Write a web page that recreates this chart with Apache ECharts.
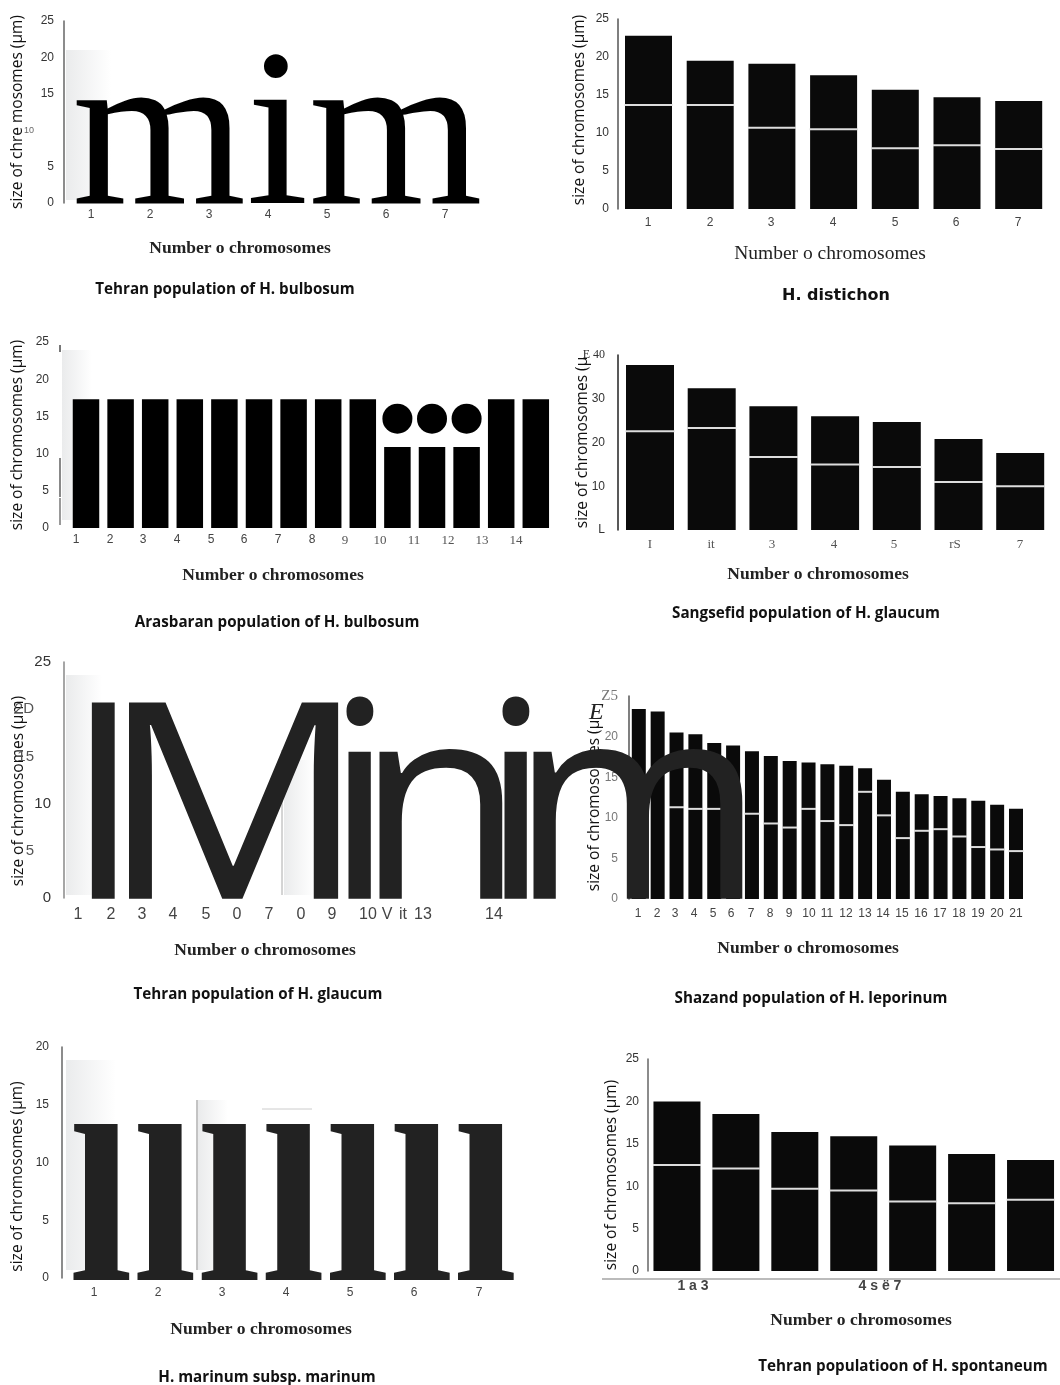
<!DOCTYPE html>
<html>
<head>
<meta charset="utf-8">
<style>html,body{margin:0;padding:0;background:#fff}#chart{width:1060px;height:1385px}</style>
<script src="https://cdn.jsdelivr.net/npm/echarts@6/dist/echarts.min.js"></script>
</head>
<body>
<div id="chart"></div>
<script>
// tick labels
var ticksSeven = ['1', '2', '3', '4', '5', '6', '7']
var ticksArasbaran = ['1', '2', '3', '4', '5', '6', '7', '8', '9', '10', '11', '12', '13', '14']
var ticksSangsefid = ['I', 'it', '3', '4', '5', 'rS', '7']
var ticksTehranGlaucum = ['1', '2', '3', '4', '5', '0', '7', '0', '9', '10', 'V', 'it', '13', '14']
var ticksShazand = ['1', '2', '3', '4', '5', '6', '7', '8', '9', '10', '11', '12', '13', '14', '15', '16', '17', '18', '19', '20', '21']
var ticksSpontaneum = ['1 a 3', '4 s ë 7']

// y labels, bottom to top
var yBulbosum = ['0', '5', '{s|10}', '15', '20', '25']
var yPlain = ['0', '5', '10', '15', '20', '25']
var ySangsefid = ['L', '10', '20', '30', '{e|E 40}']
var yGlaucum = ['0', '{p|5}', '10', '{p|15}', '{p|2D}', '25']
var yShazand = ['0', '5', '10', '15', '20', '{z|Z5}']
var yMarinum = ['0', '5', '10', '15', '20']

// whole chromosome length and long arm length
var distichonTotal = [22.8, 19.5, 19.1, 17.6, 15.7, 14.7, 14.2]
var distichonArm = [13.7, 13.7, 10.7, 10.5, 8.0, 8.4, 7.9]
var arasbaranTotal = [17.3, 17.3, 17.3, 17.3, 17.3, 17.3, 17.3, 17.3, 17.3, 10.9, 10.9, 10.9, 17.3, 17.3]
var arasbaranDots = [null, null, null, null, null, null, null, null, null, 14.7, 14.7, 14.7, null, null]
var sangsefidTotal = [37.7, 32.4, 28.3, 26.0, 24.7, 20.8, 17.6]
var sangsefidArm = [22.6, 23.3, 16.7, 15.0, 14.4, 11.0, 10.0]
var shazandTotal = [23.4, 23.1, 20.5, 20.3, 19.2, 18.9, 18.2, 17.6, 17.0, 16.8, 16.6, 16.4, 16.1, 14.7, 13.2, 12.9, 12.7, 12.4, 12.1, 11.6, 11.1]
var shazandArm = [null, null, 11.3, 11.1, 11.1, null, 10.5, 9.3, 8.8, 11.1, 9.6, 9.1, 13.2, 10.3, 7.5, 8.4, 8.6, 7.7, 6.4, 6.1, 5.9]
var spontaneumTotal = [20.0, 18.5, 16.4, 15.9, 14.8, 13.8, 13.1]
var spontaneumArm = [12.5, 12.1, 9.7, 9.5, 8.2, 8.0, 8.4]

var xName = 'Number o chromosomes'

var panels = [
    {
        yName: 'size of chre mosomes (µm)', nameGap: 38, yLabels: yBulbosum, max: 25, axisX: 64, y0: 203, yTop: 21, yMargin: 10,
        ticks: ticksSeven, tickX: [91, 150, 209, 268, 327, 386, 445], tickY: 216,
        xTitle: [240, 248], caption: 'Tehran population of H. bulbosum', capPos: [225, 289], axisColor: '#666'
    },
    {
        yName: 'size of chromosomes (µm)', nameGap: 30, namePad: [0, 0, 0, 8], yLabels: yPlain, max: 25, axisX: 618, y0: 209, yTop: 19, yMargin: 9,
        total: distichonTotal, arm: distichonArm, c1: 648.5, pitch: 61.7, barWidth: 47,
        ticks: ticksSeven, tickX: [648, 710, 771, 833, 895, 956, 1018], tickY: 224,
        xTitle: [830, 253], xPlain: true, caption: 'H. distichon', capPos: [836, 295],
        capWide: true, axisColor: '#555'
    },
    {
        yName: 'size of chromosomes (µm)', nameGap: 34, yLabels: yPlain, max: 25, axisX: 60, y0: 528, yTop: 342, yMargin: 11,
        total: arasbaranTotal, dots: arasbaranDots, c1: 86, pitch: 34.6, barWidth: 26.5, noAxisLine: true, barColor: '#000',
        ticks: ticksArasbaran, tickX: [76, 110, 143, 177, 211, 244, 278, 312, 345, 380, 414, 448, 482, 516], tickY: 541, serifFrom: 8,
        xTitle: [273, 575], caption: 'Arasbaran population of H. bulbosum', capPos: [277, 622]
    },
    {
        yName: 'size of chromosomes (µ', nameGap: 27, yLabels: ySangsefid, max: 40, axisX: 618, y0: 530, yTop: 355,
        total: sangsefidTotal, arm: sangsefidArm, c1: 650, pitch: 61.7, barWidth: 48,
        ticks: ticksSangsefid, tickX: [650, 711, 772, 834, 894, 955, 1020], tickY: 545, serifFrom: 0,
        xTitle: [818, 574], caption: 'Sangsefid population of H. glaucum', capPos: [806, 613], axisColor: '#222'
    },
    {
        yName: 'size of chromosomes (µm)', nameGap: 37, namePad: [0, 22, 0, 0], yLabels: yGlaucum, max: 25, axisX: 64, y0: 898, yTop: 662,
        ticks: ticksTehranGlaucum, tickX: [78, 111, 142, 173, 206, 237, 269, 301, 332, 368, 387, 403, 423, 494], tickY: 914, tickFont: 16,
        xTitle: [265, 950], caption: 'Tehran population of H. glaucum', capPos: [258, 994], axisColor: '#888', yFont: 15
    },
    {
        yName: 'size of chromosomes (µ', nameGap: 26, namePad: [0, 16, 0, 0], yLabels: yShazand, max: 25, axisX: 629, y0: 899, yTop: 696, yMargin: 11,
        total: shazandTotal, arm: shazandArm, c1: 638.8, pitch: 18.86, barWidth: 14,
        ticks: ticksShazand, tickX: [638, 657, 675, 694, 713, 731, 751, 770, 789, 809, 827, 846, 865, 883, 902, 921, 940, 959, 978, 997, 1016], tickY: 915,
        xTitle: [808, 948], caption: 'Shazand population of H. leporinum', capPos: [811, 998], axisColor: '#555', yColor: '#777'
    },
    {
        yName: 'size of chromosomes (µm)', nameGap: 36, namePad: [0, 28, 0, 0], yLabels: yMarinum, max: 20, axisX: 62, y0: 1278, yTop: 1047,
        ticks: ticksSeven, tickX: [94, 158, 222, 286, 350, 414, 479], tickY: 1294,
        xTitle: [261, 1329], caption: 'H. marinum subsp. marinum', capPos: [267, 1377], axisColor: '#666'
    },
    {
        yName: 'size of chromosomes (µm)', nameGap: 28, namePad: [0, 20, 0, 0], yLabels: yPlain, max: 25, axisX: 648, y0: 1271, yTop: 1059, yMargin: 9,
        total: spontaneumTotal, arm: spontaneumArm, c1: 678, pitch: 61, barWidth: 47,
        ticks: ticksSpontaneum, tickX: [693, 880], tickY: 1286, tickBold: true, tickFont: 14,
        xTitle: [861, 1320], caption: 'Tehran populatioon of H. spontaneum', capPos: [903, 1366], axisColor: '#666'
    }
]

// big overprinted letters and stray scan marks
var sansBig = '275px "Open Sans"'
var overprint = [
    { text: 'mim', x: 72, y: 256, font: '224px "Liberation Serif"', fill: '#000', scaleX: 1 },
    { text: 'I', x: 65, y: 958, font: sansBig, fill: '#222', scaleX: 1 },
    { text: 'M', x: 100, y: 958, font: sansBig, fill: '#222', scaleX: 1.08 },
    { text: 'i', x: 325, y: 958, font: sansBig, fill: '#222', scaleX: 1 },
    { text: 'n', x: 356, y: 958, font: sansBig, fill: '#222', scaleX: 1 },
    { text: 'i', x: 481, y: 958, font: sansBig, fill: '#222', scaleX: 1 },
    { text: 'm', x: 510, y: 958, font: sansBig, fill: '#222', scaleX: 1 },
    { text: 'lllllll', x: 69, y: 1334, font: 'bold 224px "Liberation Serif"', fill: '#222', scaleX: 1.03 }
]
var strayLines = [
    [60, 345, 60, 352, '#777', 2], [60, 458, 60, 497, '#888', 2], [60, 498, 60, 525, '#999', 2],
    [282, 750, 282, 895, '#aaa', 1], [197, 1100, 197, 1270, '#888', 1], [262, 1109, 312, 1109, '#ccc', 1],
    [602, 1279, 1060, 1279, '#bbb', 2]
]
var shades = [
    [66, 50, 45, 150], [62, 350, 30, 170], [66, 675, 36, 220], [66, 1060, 50, 210], [284, 760, 30, 135], [198, 1100, 30, 170]
]

var grid = [], xAxis = [], yAxis = [], series = [], title = [], graphic = []
var richY = {
    s: { fontSize: 9, color: '#666', padding: [0, 20, 0, 0] },
    p: { fontSize: 15, color: '#555', padding: [0, 17, 0, 0] },
    e: { fontFamily: 'Liberation Serif', fontSize: 12, color: '#333' },
    z: { fontFamily: 'Liberation Serif', fontSize: 15, color: '#777' }
}

panels.forEach(function (p) {
    var n = p.total ? p.total.length : 7
    var pitch = p.pitch || 59
    var left = p.total ? p.c1 - pitch / 2 : p.axisX
    var idx = grid.length
    var step = p.max == 40 ? 10 : 5

    grid.push({ left: left, top: p.yTop, width: pitch * n, height: p.y0 - p.yTop })
    xAxis.push({
        type: 'category', gridIndex: idx, data: p.total ? p.total.map(function (v, i) { return i + 1 }) : ticksSeven,
        axisLine: { show: false }, axisTick: { show: false }, axisLabel: { show: false }
    })
    yAxis.push({
        type: 'value', gridIndex: idx, min: 0, max: p.max, interval: step,
        offset: left - p.axisX, splitLine: { show: false }, axisTick: { show: false },
        axisLine: { show: !p.noAxisLine, lineStyle: { color: p.axisColor || '#666', width: 1.5 } },
        axisLabel: {
            margin: p.yMargin || 13, fontFamily: 'Liberation Sans', fontSize: p.yFont || 12, color: p.yColor || '#333', rich: richY,
            formatter: function (v) { return p.yLabels[v / step] }
        },
        name: p.yName, nameLocation: 'middle', nameGap: p.nameGap, nameMoveOverlap: false,
        nameTextStyle: { fontFamily: 'Open Sans', fontSize: 15.5, color: '#111', padding: p.namePad || 0 }
    })

    // tick labels sit on their own pixel axis, they do not line up with the bars
    var lab = grid.length
    grid.push({ left: 0, top: p.tickY - 8, width: 1060, height: 1 })
    xAxis.push({
        type: 'value', gridIndex: lab, min: 0, max: 1060, splitLine: { show: false }, axisLine: { show: false }, axisTick: { show: false },
        axisLabel: {
            customValues: p.tickX, margin: 0, hideOverlap: false,
            rich: {
                a: { fontFamily: 'Liberation Sans', fontSize: p.tickFont || 12, color: '#444', fontWeight: p.tickBold ? 'bold' : 'normal' },
                b: { fontFamily: 'Liberation Serif', fontSize: 13, color: '#555' }
            },
            formatter: function (v) {
                var i = p.tickX.indexOf(v)
                var key = p.serifFrom !== undefined && i >= p.serifFrom ? 'b' : 'a'
                return '{' + key + '|' + p.ticks[i] + '}'
            }
        }
    })
    yAxis.push({ type: 'value', gridIndex: lab, show: false })

    if (p.total) {
        series.push({
            type: 'bar', xAxisIndex: idx, yAxisIndex: idx, data: p.total, barWidth: p.barWidth,
            itemStyle: { color: p.barColor || '#0a0a0a' }, animation: false, silent: true
        })
    }
    if (p.arm) {
        series.push({
            type: 'scatter', xAxisIndex: idx, yAxisIndex: idx, symbol: 'rect', symbolSize: [p.barWidth + 1, 2], z: 5,
            data: p.arm.map(function (v, i) { return [i, v] }),
            itemStyle: { color: '#ddd', opacity: 1 }, animation: false, silent: true
        })
    }
    if (p.dots) {
        series.push({
            type: 'scatter', xAxisIndex: idx, yAxisIndex: idx, symbol: 'circle', symbolSize: 30, z: 5,
            data: p.dots.map(function (v, i) { return [i, v] }),
            itemStyle: { color: '#000', opacity: 1 }, animation: false, silent: true
        })
    }

    title.push({
        text: xName, left: p.xTitle[0], top: p.xTitle[1] - 9, textAlign: 'center', padding: 0,
        textStyle: { fontFamily: 'Liberation Serif', fontWeight: p.xPlain ? 'normal' : 'bold', fontSize: p.xPlain ? 19.5 : 17.5, color: '#222' }
    })
    title.push({
        text: p.caption, left: p.capPos[0], top: p.capPos[1] - 7, textAlign: 'center', padding: 0,
        textStyle: { fontFamily: p.capWide ? 'DejaVu Sans' : 'Open Sans', fontWeight: 'bold', fontSize: p.capWide ? 16 : 15.2, color: '#111' }
    })
})

shades.forEach(function (s) {
    graphic.push({
        type: 'rect', z: 0, shape: { x: s[0], y: s[1], width: s[2], height: s[3] },
        style: { fill: new echarts.graphic.LinearGradient(0, 0, 1, 0, [{ offset: 0, color: '#eaebec' }, { offset: 1, color: '#ffffff' }]) }
    })
})
strayLines.forEach(function (l) {
    graphic.push({ type: 'line', z: 1, shape: { x1: l[0], y1: l[1], x2: l[2], y2: l[3] }, style: { stroke: l[4], lineWidth: l[5] } })
})
overprint.forEach(function (t) {
    graphic.push({
        type: 'text', z: 50, x: t.x, y: t.y, scaleX: t.scaleX,
        style: { text: t.text, font: t.font, fill: t.fill, textAlign: 'left', verticalAlign: 'bottom' }
    })
})
// the E over the Shazand axis name
graphic.push({ type: 'text', z: 60, x: 589, y: 701, style: { text: 'E', font: 'italic 24px "Liberation Serif"', fill: '#222' } })

var chart = echarts.init(document.getElementById('chart'))
chart.setOption({
    animation: false, backgroundColor: '#fff',
    title: title, grid: grid, xAxis: xAxis, yAxis: yAxis, series: series, graphic: graphic
})
</script>
</body>
</html>
